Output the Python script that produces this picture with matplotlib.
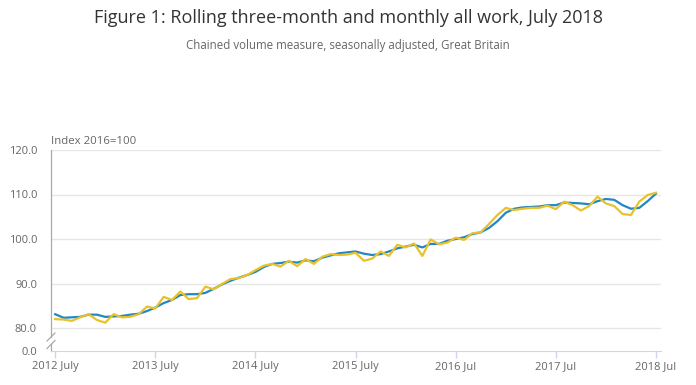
import numpy as np
import matplotlib
matplotlib.use('Agg')
import matplotlib.pyplot as plt

plt.rcParams['font.family'] = ['Open Sans', 'DejaVu Sans']

# rolling three-month all work index (2016=100), July 2012 - July 2018
rolling = [83.1, 82.3, 82.4, 82.5, 83.0, 83.0, 82.5, 82.6, 82.7, 83.0, 83.2, 83.8,
           84.6, 85.6, 86.3, 87.4, 87.6, 87.6, 87.9, 88.8, 89.8, 90.6, 91.3, 91.9,
           92.6, 93.7, 94.4, 94.6, 94.9, 94.7, 95.2, 95.0, 95.8, 96.3, 96.8, 97.0,
           97.2, 96.7, 96.4, 96.6, 97.2, 97.9, 98.3, 98.7, 98.1, 98.9, 98.9, 99.6,
           100.0, 100.4, 101.1, 101.5, 102.5, 104.0, 105.9, 106.8, 107.1, 107.2, 107.3, 107.6,
           107.6, 108.2, 108.1, 108.0, 107.8, 108.5, 109.0, 108.8, 107.6, 106.8, 107.0, 108.5,
           110.2]
# monthly all work index
monthly = [82.0, 81.9, 81.6, 82.4, 83.1, 81.8, 81.2, 83.1, 82.4, 82.5, 83.1, 84.8,
           84.4, 87.0, 86.3, 88.2, 86.5, 86.7, 89.3, 88.7, 89.9, 91.0, 91.2, 91.9,
           93.0, 94.0, 94.4, 93.8, 95.1, 93.9, 95.5, 94.4, 96.0, 96.6, 96.4, 96.5,
           96.9, 95.1, 95.6, 97.2, 96.2, 98.7, 98.1, 99.0, 96.2, 99.9, 98.8, 99.2,
           100.3, 99.8, 101.3, 101.5, 103.4, 105.4, 107.0, 106.5, 106.8, 107.0, 107.0, 107.5,
           106.7, 108.4, 107.6, 106.4, 107.4, 109.5, 108.0, 107.4, 105.6, 105.4, 108.4, 109.9,
           110.4]
tick_labels = ['2012 July', '2013 July', '2014 July', '2015 July',
               '2016 Jul', '2017 Jul', '2018 Jul']
y_ticks = [80, 90, 100, 110, 120]

x = np.arange(len(rolling))
xt = np.arange(0, len(rolling), 12)

fig = plt.figure(figsize=(6.96, 3.85), dpi=100)
L, W = 51 / 696, 610 / 696
ax = fig.add_axes([L, 48 / 385, W, 187 / 385])
ax0 = fig.add_axes([L, 34 / 385, W, 7 / 385])

grid_c = '#e6e6e6'
axis_c = '#ccd6eb'
txt_c = '#666666'

ax.plot(x, rolling, color='#2288c2', lw=1.6, solid_joinstyle='round', zorder=3)
ax.plot(x, monthly, color='#e9c12b', lw=1.6, solid_joinstyle='round', zorder=4)
ax.set_xlim(-0.5, 72.6)
ax.set_ylim(80 - 9 / 4.45, 120)
ax.set_yticks(y_ticks)
ax.set_yticklabels(['%.1f' % v for v in y_ticks])
ax.set_xticks([])
ax.grid(axis='y', color=grid_c, lw=1)
ax.set_axisbelow(True)
for s in ['top', 'right', 'bottom']:
    ax.spines[s].set_visible(False)
ax.spines['left'].set_color('#aaaaaa')
ax.spines['left'].set_linewidth(0.9)
ax.tick_params(axis='y', length=0, pad=10, labelsize=8, labelcolor=txt_c)

ax0.set_xlim(-0.5, 72.6)
ax0.set_ylim(0, 1)
ax0.set_yticks([0])
ax0.set_yticklabels(['0.0'])
ax0.set_xticks(xt)
ax0.set_xticklabels(tick_labels)
for s in ['top', 'right']:
    ax0.spines[s].set_visible(False)
ax0.spines['left'].set_color('#aaaaaa')
ax0.spines['left'].set_linewidth(0.9)
ax0.spines['bottom'].set_color(axis_c)
ax0.tick_params(axis='y', length=0, pad=10, labelsize=8, labelcolor=txt_c)
ax0.tick_params(axis='x', length=5, width=1, color=axis_c, pad=2, labelsize=8, labelcolor=txt_c)
ax0.patch.set_alpha(0)

# break marks on the y axis
for yy in [337, 344.5]:
    yf = (385 - yy) / 385
    fig.add_artist(plt.Line2D([L - 4 / 696, L + 4 / 696], [yf - 4 / 385, yf + 4 / 385],
                              color='#aaaaaa', lw=0.9))

fig.text(0.5, 1 - 18 / 385, 'Figure 1: Rolling three-month and monthly all work, July 2018',
         ha='center', va='center', fontsize=13, color='#333333')
fig.text(0.5, 1 - 45 / 385, 'Chained volume measure, seasonally adjusted, Great Britain',
         ha='center', va='center', fontsize=8.3, color=txt_c)
fig.text(L, 1 - 141 / 385, 'Index 2016=100', ha='left', va='center', fontsize=8.2, color=txt_c)

fig.savefig('out.png', dpi=100, facecolor='white')
